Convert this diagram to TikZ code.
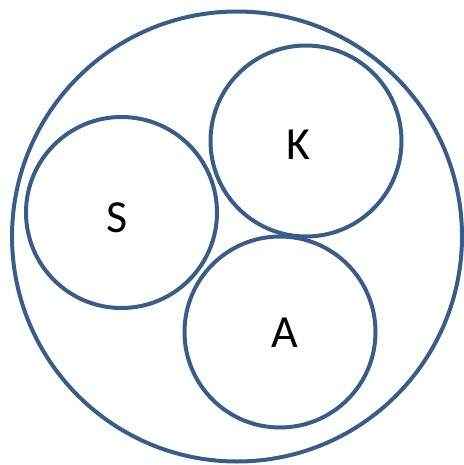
\documentclass[tikz,border=0pt]{standalone}
\usepackage{fontspec}
\setmainfont{Carlito}
\definecolor{ring}{RGB}{56,93,138}
\begin{document}
\begin{tikzpicture}[x=1pt,y=-1pt,
  ringc/.style={circle,draw=ring,line width=4pt,inner sep=0pt},
  lbl/.style={inner sep=0pt,font=\fontsize{46}{50}\selectfont}]
\useasboundingbox (0,0) rectangle (463,465);
\node[ringc,minimum size=450pt] (outer) at (237,236.5) {};
\node[ringc,minimum size=191pt] (S) at (121.5,212.5) {};
\node[ringc,minimum size=191pt] (K) at (306,141) {};
\node[ringc,minimum size=191pt] (A) at (280,332) {};
\node[lbl] (Sl) at (117,217.5) {S};
\node[lbl] (Kl) at (298,145) {K};
\node[lbl] (Al) at (285,333) {A};
\end{tikzpicture}
\end{document}
